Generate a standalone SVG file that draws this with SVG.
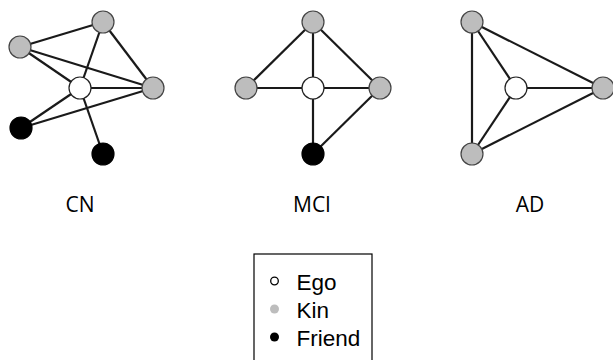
<svg xmlns="http://www.w3.org/2000/svg" width="613" height="360" viewBox="0 0 613 360">
<style>
.e{stroke:#1a1a1a;stroke-width:2.2;fill:none}
.ego{fill:#fff;stroke:#222;stroke-width:1.2}
.kin{fill:#bdbdbd;stroke:#444;stroke-width:1.2}
.fr{fill:#000;stroke:#000;stroke-width:1.2}
.lab{font-family:"Open Sans","Liberation Sans",sans-serif;font-size:21px;fill:#000;text-anchor:middle}
.leg{font-family:"Liberation Sans",Arial,sans-serif;font-size:22.5px;fill:#000}
</style>
<rect width="613" height="360" fill="#fff"/>
<g id="connectors">
<line class="e" x1="103" y1="22" x2="20" y2="47"/>
<line class="e" x1="103" y1="22" x2="80" y2="88"/>
<line class="e" x1="103" y1="22" x2="153" y2="88"/>
<line class="e" x1="20" y1="47" x2="80" y2="88"/>
<line class="e" x1="20" y1="47" x2="153" y2="88"/>
<line class="e" x1="80" y1="88" x2="153" y2="88"/>
<line class="e" x1="80" y1="88" x2="21" y2="128"/>
<line class="e" x1="153" y1="88" x2="21" y2="128"/>
<line class="e" x1="80" y1="88" x2="103" y2="154"/>
<line class="e" x1="313" y1="22" x2="246" y2="88"/>
<line class="e" x1="313" y1="22" x2="313" y2="88"/>
<line class="e" x1="313" y1="22" x2="380" y2="88"/>
<line class="e" x1="246" y1="88" x2="380" y2="88"/>
<line class="e" x1="313" y1="88" x2="313" y2="154"/>
<line class="e" x1="380" y1="88" x2="313" y2="154"/>
<line class="e" x1="472" y1="22" x2="472" y2="154"/>
<line class="e" x1="472" y1="22" x2="516" y2="88"/>
<line class="e" x1="472" y1="22" x2="603" y2="88"/>
<line class="e" x1="516" y1="88" x2="603" y2="88"/>
<line class="e" x1="516" y1="88" x2="472" y2="154"/>
<line class="e" x1="472" y1="154" x2="603" y2="88"/>
</g>
<g id="cn-kin-top"><circle class="kin" cx="103" cy="22" r="11"/></g>
<g id="cn-kin-left"><circle class="kin" cx="20" cy="47" r="11"/></g>
<g id="cn-ego"><circle class="ego" cx="80" cy="88" r="11"/></g>
<g id="cn-kin-right"><circle class="kin" cx="153" cy="88" r="11"/></g>
<g id="cn-friend-1"><circle class="fr" cx="21" cy="128" r="11"/></g>
<g id="cn-friend-2"><circle class="fr" cx="103" cy="154" r="11"/></g>
<g id="mci-kin-top"><circle class="kin" cx="313" cy="22" r="11"/></g>
<g id="mci-kin-left"><circle class="kin" cx="246" cy="88" r="11"/></g>
<g id="mci-ego"><circle class="ego" cx="313" cy="88" r="11"/></g>
<g id="mci-kin-right"><circle class="kin" cx="380" cy="88" r="11"/></g>
<g id="mci-friend"><circle class="fr" cx="313" cy="154" r="11"/></g>
<g id="ad-kin-top"><circle class="kin" cx="472" cy="22" r="11"/></g>
<g id="ad-ego"><circle class="ego" cx="516" cy="88" r="11"/></g>
<g id="ad-kin-right"><circle class="kin" cx="603" cy="88" r="11"/></g>
<g id="ad-kin-bottom"><circle class="kin" cx="472" cy="154" r="11"/></g>
<g id="labels">
<text class="lab" x="80" y="212">CN</text>
<text class="lab" x="312" y="212">MCI</text>
<text class="lab" x="530" y="212">AD</text>
</g>
<g id="legend">
<rect x="254" y="254" width="118" height="110" fill="#fff" stroke="#000" stroke-width="1.2"/>
<circle cx="274.5" cy="281" r="3.8" fill="#fff" stroke="#000" stroke-width="1.3"/>
<circle cx="274.5" cy="309" r="4.5" fill="#bdbdbd"/>
<circle cx="274.5" cy="337" r="4.5" fill="#000"/>
<text class="leg" x="296.5" y="290">Ego</text>
<text class="leg" x="296.5" y="318">Kin</text>
<text class="leg" x="296.5" y="346">Friend</text>
</g>
</svg>
